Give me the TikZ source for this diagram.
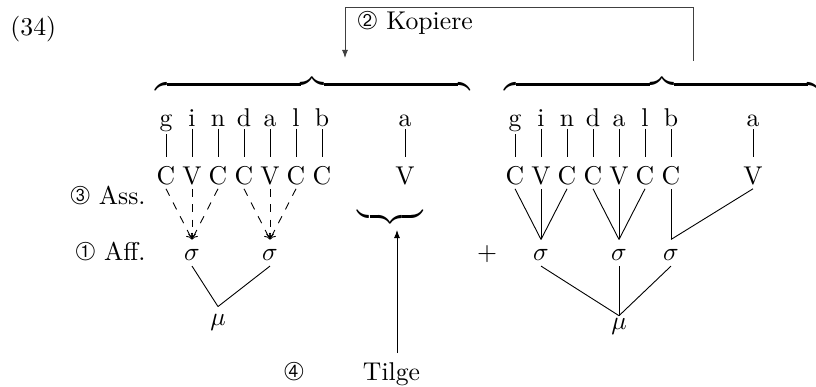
\documentclass[tikz,border=0pt]{standalone}
\usepackage{fontspec}
\usepackage{pifont}
\usetikzlibrary{arrows.meta,positioning}

\newcommand{\kreis}[1]{\ding{#1}}

\begin{document}
\begin{tikzpicture}[
      x=0.389pt, y=-0.389pt,
      line width=0.35pt,
      seg/.style={inner sep=0.5pt, anchor=base},
      cv/.style={inner sep=0pt, anchor=base, text height=10.9pt, text depth=1.3pt},
      syl/.style={inner sep=0pt, anchor=base, text height=8.2pt, text depth=1.8pt},
      ft/.style={inner sep=0pt, anchor=base, text height=7pt, text depth=2pt},
      lbl/.style={inner sep=0pt, anchor=base east},
      arrow/.style={-{Latex[length=3.2pt,width=2.4pt]}},
      assoc/.style={dashed, -{To[length=2.2pt,width=3pt]}},
      klammer/.style={inner sep=0pt},
    ]
    \useasboundingbox (0,0) rectangle (816,387);

    \node[anchor=base west, inner sep=0pt] (nr) at (10,36) {(34)};

    % ---- braces ----
    \node[klammer, anchor=south] (kl) at (312.5,94) {$\overbrace{\hspace{122.5pt}}$};
    \node[klammer, anchor=south] (kr) at (662,94) {$\overbrace{\hspace{122.5pt}}$};
    \node[klammer, anchor=north] (tilgeklammer) at (390.5,207) {$\underbrace{\hspace{25.3pt}}$};

    % ---- copy ----
    \coordinate (kopstart) at (693,61);
    \coordinate (kopend) at (345,58);
    \draw[arrow, black!75] (kopstart) -- ++(0,-54) -| (kopend);
    \node[anchor=base west, inner sep=0pt] (kopiere) at (357,30) {\kreis{193} Kopiere};

    % ---- left: segments ----
    \node[seg] (s1) at (166,127) {g};
    \node[seg] (s2) at (192,127) {i};
    \node[seg] (s3) at (218,127) {n};
    \node[seg] (s4) at (244,127) {d};
    \node[seg] (s5) at (270,127) {a};
    \node[seg] (s6) at (296,127) {l};
    \node[seg] (s7) at (322,127) {b};
    \node[seg] (s8) at (405,127) {a};

    \node[cv] (c1) at (166,185) {C};
    \node[cv] (c2) at (192,185) {V};
    \node[cv] (c3) at (218,185) {C};
    \node[cv] (c4) at (244,185) {C};
    \node[cv] (c5) at (270,185) {V};
    \node[cv] (c6) at (296,185) {C};
    \node[cv] (c7) at (322,185) {C};
    \node[cv] (c8) at (405,185) {V};

    \draw (s1) -- (c1);
    \draw (s2) -- (c2);
    \draw (s3) -- (c3);
    \draw (s4) -- (c4);
    \draw (s5) -- (c5);
    \draw (s6) -- (c6);
    \draw (s7) -- (c7);
    \draw (s8) -- (c8);

    \node[syl] (sig1) at (192,261) {$\sigma$};
    \node[syl] (sig2) at (270,261) {$\sigma$};
    \node[ft] (mu1) at (218,325) {$\mu$};

    \draw[assoc] (c1.south) -- (sig1.north);
    \draw[assoc] (c2.south) -- (sig1.north);
    \draw[assoc] (c3.south) -- (sig1.north);
    \draw[assoc] (c4.south) -- (sig2.north);
    \draw[assoc] (c5.south) -- (sig2.north);
    \draw[assoc] (c6.south) -- (sig2.north);
    \draw (sig1.south) -- (mu1.north);
    \draw (sig2.south) -- (mu1.north);

    % labels
    \node[lbl] (ass) at (146,205) {\kreis{194} Ass.};
    \node[lbl] (aff) at (146,261) {\kreis{192} Aff.};

    % delete
    \node[anchor=base] (tilge) at (391.5,380) {Tilge};
    \node[base left=15.9pt of tilge] (vier) {\kreis{195}};
    \coordinate (tilgepfeil) at (397,230);
    \draw[arrow] (tilgepfeil |- tilge.north) -- (tilgepfeil);

    \node[anchor=base, inner sep=0pt] (plus) at (487,261) {$+$};

    % ---- right: segments ----
    \node[seg] (t1) at (515,127) {g};
    \node[seg] (t2) at (541,127) {i};
    \node[seg] (t3) at (567,127) {n};
    \node[seg] (t4) at (593,127) {d};
    \node[seg] (t5) at (619,127) {a};
    \node[seg] (t6) at (645,127) {l};
    \node[seg] (t7) at (671,127) {b};
    \node[seg] (t8) at (753,127) {a};

    \node[cv] (k1) at (515,185) {C};
    \node[cv] (k2) at (541,185) {V};
    \node[cv] (k3) at (567,185) {C};
    \node[cv] (k4) at (593,185) {C};
    \node[cv] (k5) at (619,185) {V};
    \node[cv] (k6) at (645,185) {C};
    \node[cv] (k7) at (671,185) {C};
    \node[cv] (k8) at (753,185) {V};

    \draw (t1) -- (k1);
    \draw (t2) -- (k2);
    \draw (t3) -- (k3);
    \draw (t4) -- (k4);
    \draw (t5) -- (k5);
    \draw (t6) -- (k6);
    \draw (t7) -- (k7);
    \draw (t8) -- (k8);

    \node[syl] (sig3) at (541,261) {$\sigma$};
    \node[syl] (sig4) at (619,261) {$\sigma$};
    \node[syl] (sig5) at (671,261) {$\sigma$};
    \node[ft, text height=5pt] (mu2) at (619,329) {$\mu$};

    \draw (k1.south) -- (sig3.north);
    \draw (k2.south) -- (sig3.north);
    \draw (k3.south) -- (sig3.north);
    \draw (k4.south) -- (sig4.north);
    \draw (k5.south) -- (sig4.north);
    \draw (k6.south) -- (sig4.north);
    \draw (k7.south) -- (sig5.north);
    \draw (k8.south) -- (sig5.north);
    \draw (sig3.south) -- (mu2.north);
    \draw (sig4.south) -- (mu2.north);
    \draw (sig5.south) -- (mu2.north);
  \end{tikzpicture}
\end{document}
